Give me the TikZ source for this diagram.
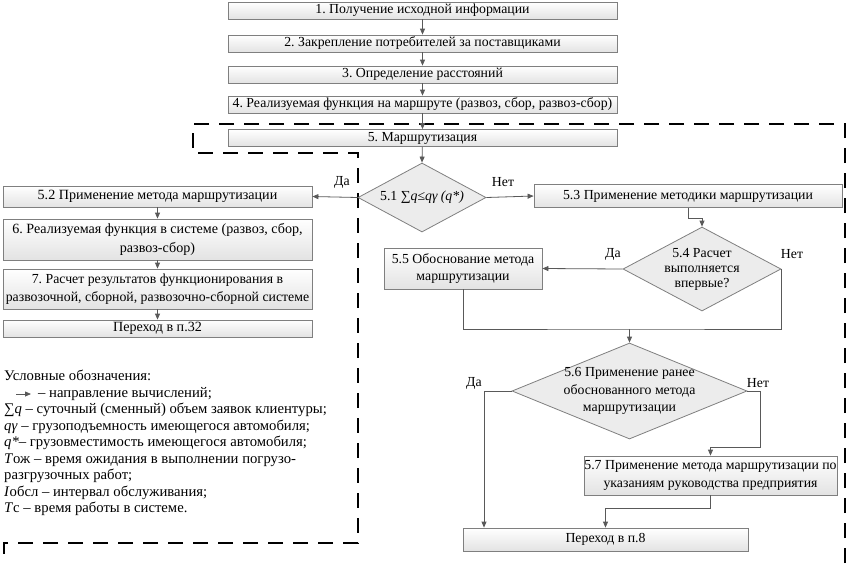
\documentclass[tikz,border=0pt]{standalone}
\usepackage{fontspec}
\setmainfont{Liberation Serif}
\usetikzlibrary{shapes.geometric,arrows.meta}
\definecolor{lc}{HTML}{595959}
\definecolor{bc}{HTML}{7F7F7F}
\frenchspacing
\begin{document}
\begin{tikzpicture}[x=1pt,y=-1pt,
  font=\fontsize{13.8}{17}\selectfont,
  box/.style={draw=bc, line width=0.8pt, top color=white, bottom color=gray!22, inner sep=0pt, align=center},
  dia/.style={diamond, draw=bc, line width=0.8pt, fill=gray!15, inner sep=0pt},
  arr/.style={draw=lc, line width=0.8pt, -{Triangle[length=6pt,width=5pt]}},
  ln/.style={draw=lc, line width=0.8pt},
  dsh/.style={line width=2.6pt, dash pattern=on 15pt off 10pt},
  lbl/.style={inner sep=0pt},
  lf/.style={font=\fontsize{14.1}{18.5}\selectfont}]
\useasboundingbox (0,0) rectangle (848,563);

% top chain
\node[box, minimum width=389, minimum height=17] (b1) at (422.5,10.5) {1. Получение исходной информации};
\node[box, minimum width=389, minimum height=17] (b2) at (422.5,43.5) {2. Закрепление потребителей за поставщиками};
\node[box, minimum width=389, minimum height=17] (b3) at (422.5,74.5) {3. Определение расстояний};
\node[box, minimum width=389, minimum height=17] (b4) at (422.5,104.5) {4. Реализуемая функция на маршруте (развоз, сбор, развоз-сбор)};
\node[box, minimum width=389, minimum height=17] (b5) at (422.5,138) {5. Маршрутизация};

% dashed frame
\draw[dsh] (845,563) -- (845,124) -- (193,124) -- (193,153) -- (358,153) -- (358,543) -- (4,543) -- (4,563);

% diamond 5.1
\node[dia, minimum width=128, minimum height=69] (d51) at (422,197.5) {};
\node[lbl] (t51) at (d51) {5.1 ∑\textit{q}≤\textit{qγ (q*)}};

% left column
\node[box, lf, minimum width=309, minimum height=21] (b52) at (157.5,196.5) {5.2 Применение метода маршрутизации};
\node[box, lf, minimum width=309, minimum height=41] (b6) at (157.5,239.5) {6. Реализуемая функция в системе (развоз, сбор,\\развоз-сбор)};
\node[box, font=\fontsize{13.8}{18.5}\selectfont, minimum width=309, minimum height=40] (b7) at (157.5,289) {7. Расчет результатов функционирования в\\развозочной, сборной, развозочно-сборной системе};
\node[box, lf, minimum width=309, minimum height=17] (b32) at (157.5,328.5) {Переход в п.32};

% right part
\node[box, minimum width=308, minimum height=23] (b53) at (688,196) {5.3 Применение методики маршрутизации};
\node[dia, minimum width=158, minimum height=84] (d54) at (702,269) {};
\node[lbl, align=center, font=\fontsize{13.8}{15}\selectfont] (t54) at (d54) {5.4 Расчет\\выполняется\\впервые?};
\node[box, minimum width=158, minimum height=41] (b55) at (463,268.5) {5.5 Обоснование метода\\маршрутизации};
\node[dia, minimum width=235, minimum height=96] (d56) at (629.5,391) {};
\node[lbl, align=center, font=\fontsize{13.8}{17.5}\selectfont] (t56) at (d56) {5.6 Применение ранее\\обоснованного метода\\маршрутизации};
\node[box, font=\fontsize{13.8}{18.5}\selectfont, minimum width=253, minimum height=39] (b57) at (710.5,475.5) {5.7 Применение метода маршрутизации по\\указаниям руководства предприятия};
\node[box, minimum width=285, minimum height=23] (b8) at (605.5,539.5) {Переход в п.8};

% labels
\node[lbl] (l1) at (342,182) {Да};
\node[lbl] (l2) at (503,182) {Нет};
\node[lbl] (l3) at (613,254) {Да};
\node[lbl] (l4) at (792,254) {Нет};
\node[lbl] (l5) at (474,383) {Да};
\node[lbl] (l6) at (758,383) {Нет};

% connectors
\draw[arr] (b1) -- (b2);
\draw[arr] (b2) -- (b3);
\draw[arr] (b3) -- (b4);
\draw[arr] (b4) -- (b5);
\draw[arr] (b5) -- (d51.north);
\draw[arr] (d51.west) -- (b52.east);
\draw[arr] (d51.east) -- (b53.west);
\draw[arr] (b52) -- (b6);
\draw[arr] (b6) -- (b7);
\draw[arr] (b7) -- (b32);
\draw[arr] (b53.south) -- ++(0,10) -| (d54.north);
\draw[arr] (d54.west) -- (b55.east);
\coordinate (m1) at (629.5,329);
\draw[ln] (b55.south) |- (m1) -| (d54.east);
\draw[arr] (m1) -- (d56.north);
\draw[arr] (d56.west) -| ([xshift=-121.5]b8.north);
\draw[arr] (d56.east) -- ++(13,0) -- ++(0,56) -| (b57.north);
\draw[arr] (b57.south) -- ++(0,13) -| (b8.north);

% legend
\node[anchor=north west, align=left, inner sep=0pt, font=\fontsize{14.7}{16.5}\selectfont] (leg) at (4,370) {Условные обозначения:\\
\hspace*{34pt}– направление вычислений;\\
∑\textit{q} – суточный (сменный) объем заявок клиентуры;\\
\textit{qγ} – грузоподъемность имеющегося автомобиля;\\
\textit{q*}– грузовместимость имеющегося автомобиля;\\
\textit{Т}ож – время ожидания в выполнении погрузо-\\
разгрузочных работ;\\
\textit{I}обсл – интервал обслуживания;\\
\textit{Т}с – время работы в системе.};
\coordinate (la) at (16,394);
\draw[arr] (la) -- ++(15,0);
\end{tikzpicture}
\end{document}
